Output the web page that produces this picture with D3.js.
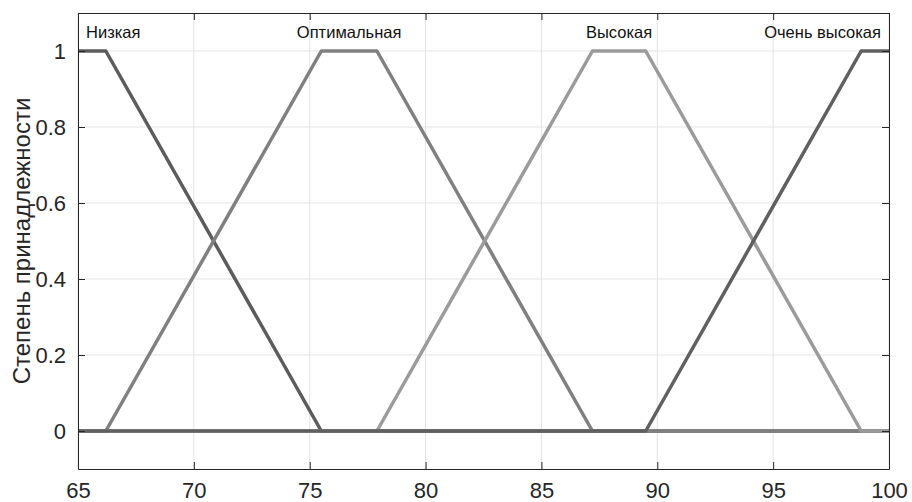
<!DOCTYPE html>
<html lang="ru">
<head>
    <meta charset="UTF-8">
    <script src="https://d3js.org/d3.v7.min.js"></script>
    <title>Функции принадлежности</title>
    <style>
        body { margin: 0; background: #fff; }
        text { font-family: "Liberation Sans", Arial, sans-serif; }
    </style>
</head>
<body>
    <script>
        // trapezoid parameters [a, b, c, d]
        const termNames = ["Низкая", "Оптимальная", "Высокая", "Очень высокая"]
        const termParams = [
            [65, 65, 66.2, 75.5],
            [66.2, 75.5, 77.9, 87.2],
            [77.9, 87.2, 89.5, 98.8],
            [89.5, 98.8, 100, 100]
        ]
        const termColors = ["#5c5c5c", "#808080", "#9b9b9b", "#606060"]
        const xTicks = [65, 70, 75, 80, 85, 90, 95, 100]
        const yTicks = [0, 0.2, 0.4, 0.6, 0.8, 1]

        const width = 912, height = 502
        const margin = { top: 13, right: 23, bottom: 33, left: 78 }

        var svg = d3.select("body")
            .append("svg")
            .attr("width", width)
            .attr("height", height)

        var x = d3.scaleLinear().domain([65, 100]).range([margin.left, width - margin.right])
        var y = d3.scaleLinear().domain([-0.1, 1.1]).range([height - margin.bottom, margin.top])

        // grid
        svg.append("g").selectAll("line").data(xTicks).join("line")
            .attr("x1", d => x(d)).attr("x2", d => x(d))
            .attr("y1", y(-0.1)).attr("y2", y(1.1))
            .attr("stroke", "#e3e3e3").attr("stroke-width", 1)
        svg.append("g").selectAll("line").data(yTicks).join("line")
            .attr("x1", x(65)).attr("x2", x(100))
            .attr("y1", d => y(d)).attr("y2", d => y(d))
            .attr("stroke", "#e3e3e3").attr("stroke-width", 1)

        // curves: each term plotted over the whole range, like plotmf does
        var line = d3.line().x(d => x(d[0])).y(d => y(d[1]))
        termParams.forEach(function (p, i) {
            var pts = [[65, 0], [p[0], 0], [p[1], 1], [p[2], 1], [p[3], 0], [100, 0]]
            if (p[0] == 65 && p[1] == 65) pts = [[65, 1], [p[2], 1], [p[3], 0], [100, 0]]
            if (p[2] == 100 && p[3] == 100) pts = [[65, 0], [p[0], 0], [p[1], 1], [100, 1]]
            svg.append("path")
                .attr("d", line(pts))
                .attr("fill", "none")
                .attr("stroke", termColors[i])
                .attr("stroke-width", 3.5)
                .attr("stroke-linejoin", "round")
        })

        // axes (box with inward ticks)
        var axisColor = "#262626"
        function tickAxis(axis, transform) {
            var g = svg.append("g").attr("transform", transform).call(axis)
            g.select(".domain").attr("stroke", axisColor)
            g.selectAll(".tick line").attr("stroke", axisColor)
            g.selectAll(".tick text").attr("fill", axisColor)
                .style("font-size", "22px").style("font-family", "'Liberation Sans', Arial, sans-serif")
            return g
        }
        tickAxis(d3.axisBottom(x).tickValues(xTicks).tickSizeInner(-7).tickSizeOuter(0).tickPadding(13),
            "translate(0," + y(-0.1) + ")")
        tickAxis(d3.axisTop(x).tickValues(xTicks).tickSizeInner(-7).tickSizeOuter(0).tickFormat(""),
            "translate(0," + y(1.1) + ")")
        tickAxis(d3.axisLeft(y).tickValues(yTicks).tickSizeInner(-7).tickSizeOuter(0).tickPadding(12)
            .tickFormat(d => d3.format("~g")(d)),
            "translate(" + x(65) + ",0)")
        tickAxis(d3.axisRight(y).tickValues(yTicks).tickSizeInner(-7).tickSizeOuter(0).tickFormat(""),
            "translate(" + x(100) + ",0)")

        // term labels above plateaus, kept inside the box
        svg.append("g").selectAll("text").data(termNames).join("text")
            .text(d => d)
            .attr("y", y(1.035))
            .attr("font-size", "16.5px")
            .attr("fill", "#111")
            .attr("text-anchor", "middle")
            .attr("x", function (d, i) {
                var cx = x((termParams[i][1] + termParams[i][2]) / 2)
                var w = this.getComputedTextLength()
                return Math.max(x(65) + 8 + w / 2, Math.min(x(100) - 8 - w / 2, cx))
            })

        // y label
        svg.append("text")
            .attr("transform", "translate(30," + (y(0.5)) + ") rotate(-90)")
            .attr("text-anchor", "middle")
            .attr("font-size", "24px")
            .attr("fill", axisColor)
            .text("Степень принадлежности")
    </script>
</body>
</html>
